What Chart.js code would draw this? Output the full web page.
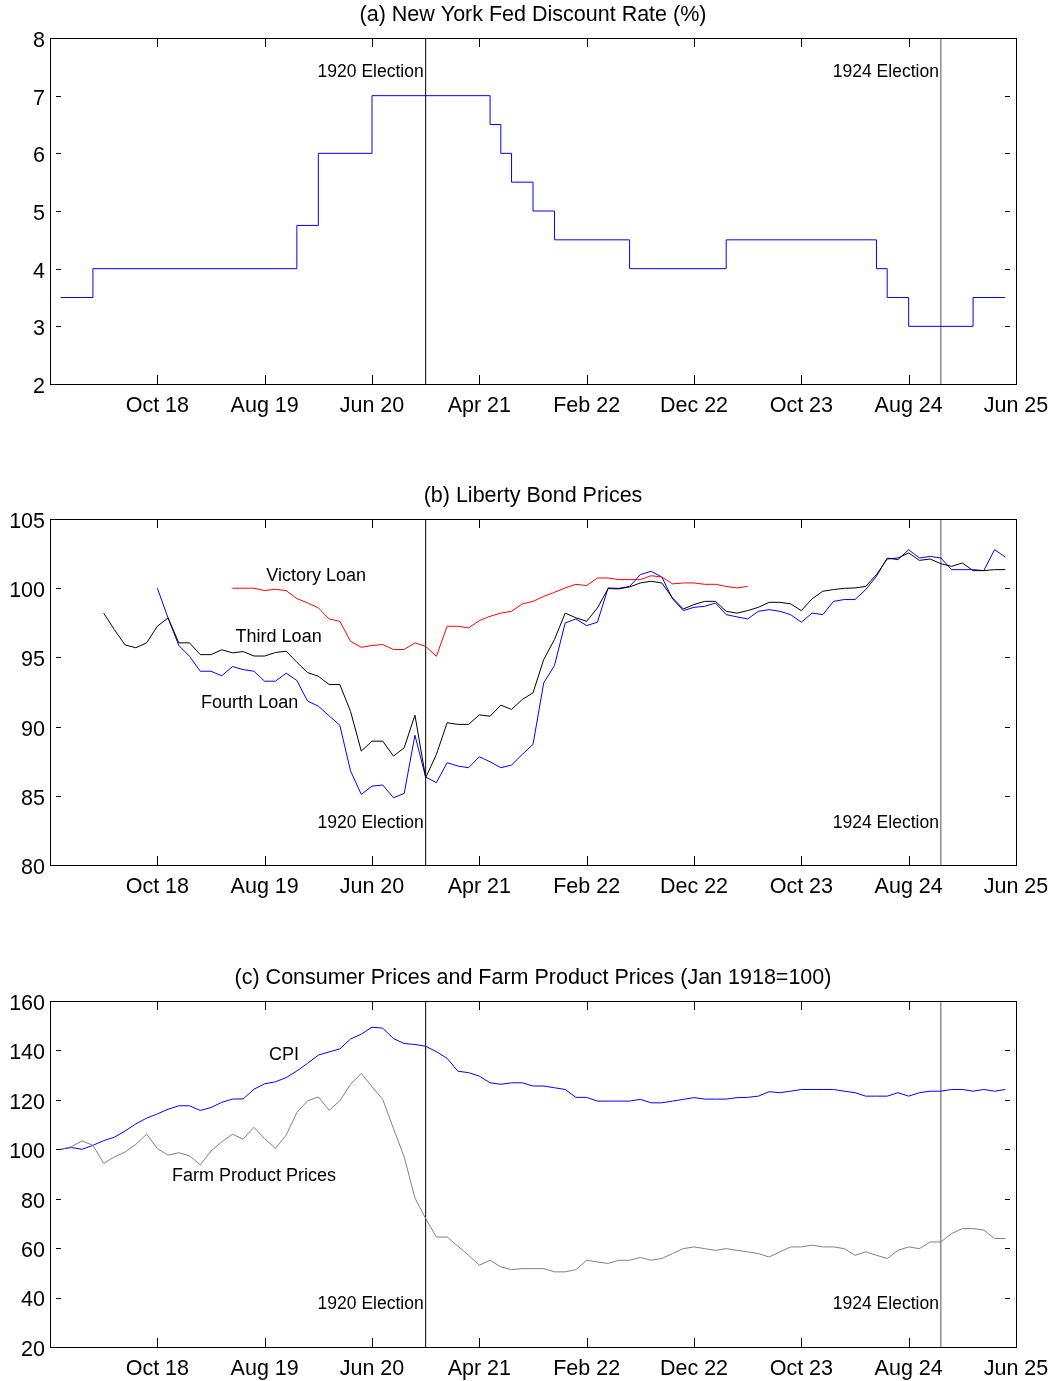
<!DOCTYPE html>
<html>
<head>
<meta charset="utf-8">
<script src="https://cdn.jsdelivr.net/npm/chart.js@4.4.0/dist/chart.umd.min.js"></script>
<style>
  html, body { margin: 0; padding: 0; background: #fff; overflow: hidden; }
  .panel { position: absolute; left: 0; width: 1054px; height: 420px; }
</style>
</head>
<body>
<div class="panel" style="top:0px"><canvas id="rateChart" width="1054" height="420"></canvas></div>
<div class="panel" style="top:481px"><canvas id="bondChart" width="1054" height="420"></canvas></div>
<div class="panel" style="top:963px"><canvas id="priceChart" width="1054" height="420"></canvas></div>
<script>
// months are counted from Dec 1917 (= 0)
const tickMonths = [10, 20, 30, 40, 50, 60, 70, 80, 90];
const tickLabels = ['Oct 18', 'Aug 19', 'Jun 20', 'Apr 21', 'Feb 22', 'Dec 22', 'Oct 23', 'Aug 24', 'Jun 25'];
const electionMonths = [35, 83];

// NY Fed discount rate: month of each change and the new rate
const rateMonths = [1, 4, 23, 25, 30, 41, 42, 43, 45, 47, 54, 63, 77, 78, 80, 86, 89];
const rateValues = [3.5, 4, 4.75, 6, 7, 6.5, 6, 5.5, 5, 4.5, 4, 4.5, 4, 3.5, 3, 3.5, 3.5];

// Liberty bond prices, monthly
const thirdStart = 5;
const thirdLoan = [
  98.2, 97.0, 95.9, 95.7, 96.05, 97.25, 97.85, 96.05, 96.05, 95.2, 95.2, 95.55, 95.33, 95.42, 95.1, 95.1,
  95.35, 95.45, 94.65, 93.9, 93.64, 93.04, 93.04, 91.1, 88.23, 88.95, 88.95, 87.87, 88.47, 90.83, 86.31,
  87.99, 90.28, 90.16, 90.16, 90.85, 90.75, 91.55, 91.24, 91.96, 92.44, 94.85, 96.29, 98.2, 97.86, 97.61,
  98.57, 99.97, 99.95, 100.09, 100.38, 100.5, 100.38, 99.3, 98.5, 98.82, 99.05, 99.05, 98.33, 98.2, 98.38,
  98.62, 98.98, 98.98, 98.87, 98.38, 99.23, 99.78, 99.9, 99.99, 100.02, 100.13, 100.98, 102.11, 102.18,
  102.55, 102.01, 102.11, 101.77, 101.58, 101.82, 101.27, 101.27, 101.34, 101.34
];
const fourthStart = 10;
const fourthLoan = [
  100.0, 97.85, 95.86, 95.08, 94.0, 94.0, 93.67, 94.34, 94.12, 94.0, 93.28, 93.28, 93.86, 93.33, 91.84,
  91.48, 90.78, 90.1, 86.8, 85.1, 85.7, 85.78, 84.86, 85.17, 89.38, 86.35,
  85.95, 87.39, 87.15, 87.03, 87.82, 87.46, 87.03, 87.22, 87.99, 88.71, 93.16, 94.41, 97.49, 97.78, 97.3,
  97.54, 100.02, 99.99, 100.13, 100.98, 101.22, 100.81, 99.23, 98.38, 98.62, 98.69, 98.93, 98.09, 97.93, 97.78,
  98.33, 98.45, 98.33, 98.09, 97.54, 98.2, 98.09, 99.05, 99.18, 99.18, 99.9, 100.86, 102.18, 102.06,
  102.78, 102.18, 102.3, 102.18, 101.34, 101.34, 101.34, 101.27, 102.78, 102.26
];
const victoryStart = 17;
const victoryLoan = [
  100.0, 100.0, 100.0, 99.83, 99.92, 99.83, 99.25, 98.94, 98.58, 97.78, 97.61, 96.17, 95.73, 95.86, 95.93,
  95.57, 95.57, 96.05, 95.8,
  95.08, 97.25, 97.25, 97.13, 97.66, 97.97, 98.2, 98.33, 98.86, 99.05, 99.41, 99.7, 100.02, 100.28, 100.19,
  100.74, 100.74, 100.62, 100.62, 100.62, 100.9, 100.81, 100.31, 100.38, 100.38, 100.28, 100.28, 100.13,
  100.02, 100.13
];

// price indexes, Jan 1918 = 100
const priceStart = 1;
const cpi = [
  100, 100.7, 100.0, 101.6, 103.5, 104.9, 107.4, 110.3, 112.6, 114.3, 116.2, 117.6, 117.6, 115.7, 116.9,
  119.0, 120.3, 120.4, 124.3, 126.5, 127.3, 129.0, 131.7, 134.8, 138.1, 139.4, 140.6, 144.6, 146.6, 149.4,
  149.0, 144.8, 142.8, 142.4, 141.7,
  139.5, 136.8, 131.6, 131.0, 129.6, 126.9, 126.3, 126.9, 126.9, 125.6, 125.6, 124.9, 124.2, 121.0, 121.0,
  119.5, 119.5, 119.5, 119.5, 120.2, 118.8, 118.8, 119.5, 120.2, 120.9, 120.3, 120.3, 120.3, 120.9, 121.0,
  121.5, 123.3, 122.9, 123.5, 124.2, 124.2, 124.2, 124.2, 123.5, 122.9, 121.5, 121.5, 121.5, 122.9, 121.5,
  122.9, 123.5, 123.5, 124.2, 124.2, 123.5, 124.2, 123.5, 124.2
];
const farmPrices = [
  100, 101.1, 103.4, 101.6, 94.3, 96.9, 98.9, 102.0, 106.1, 100.3, 97.6, 98.6, 97.3, 93.7, 99.3, 103.0,
  106.1, 104.1, 108.9, 104.3, 100.3, 105.7, 114.9, 119.6, 121.2, 115.8, 119.6, 126.3, 130.7, 125.3, 120.2,
  108.4, 96.9, 80.3, 72.0,
  64.5, 64.5, 60.8, 57.1, 53.1, 55.1, 52.4, 51.3, 51.7, 51.7, 51.7, 50.4, 50.4, 51.3, 55.1, 54.4, 53.8,
  55.1, 55.1, 56.2, 55.1, 55.8, 57.8, 59.8, 60.5, 59.8, 59.1, 59.8, 59.1, 58.5,
  57.8, 56.4, 58.5, 60.5, 60.5, 61.2, 60.5, 60.5, 59.8, 57.1, 58.5, 57.1, 55.8, 59.1, 60.5, 59.8, 62.5,
  62.5, 65.9, 67.9, 67.9, 67.3, 63.9, 63.9
];

const FONT = "'Liberation Sans', Arial, sans-serif";
Chart.defaults.font.family = FONT;
Chart.defaults.color = '#000';

function series(start, values) {
  return values.map((v, k) => ({ x: start + k, y: v }));
}

function line(data, color, extra) {
  return Object.assign({
    data: data,
    borderColor: color,
    borderWidth: 1,
    pointRadius: 0,
    tension: 0,
    fill: false
  }, extra || {});
}

function electionLines(yMin, yMax) {
  return electionMonths.map((m, k) =>
    line([{ x: m, y: yMin }, { x: m, y: yMax }], k === 0 ? '#000' : '#555'));
}

// box round the plot, inward tick marks on all four sides, and text notes
const framePlugin = {
  id: 'frame',
  afterDatasetsDraw(chart, args, opts) {
    const { ctx, chartArea: a, scales: { x, y } } = chart;
    ctx.save();
    ctx.strokeStyle = '#000';
    ctx.lineWidth = 1;
    ctx.beginPath();
    x.ticks.forEach(t => {
      const px = Math.round(x.getPixelForValue(t.value)) + 0.5;
      ctx.moveTo(px, a.bottom); ctx.lineTo(px, a.bottom - 9);
      ctx.moveTo(px, a.top); ctx.lineTo(px, a.top + 9);
    });
    y.ticks.forEach(t => {
      const py = Math.round(y.getPixelForValue(t.value)) + 0.5;
      ctx.moveTo(a.left + 6, py); ctx.lineTo(a.left + 11, py);
      ctx.moveTo(a.right - 6, py); ctx.lineTo(a.right - 11, py);
    });
    ctx.stroke();
    ctx.strokeRect(Math.round(a.left) + 0.5, Math.round(a.top) + 0.5,
      Math.round(a.right - a.left), Math.round(a.bottom - a.top));

    ctx.fillStyle = '#000';
    ctx.textBaseline = 'middle';
    (opts.notes || []).forEach(n => {
      ctx.font = n.size + 'px ' + FONT;
      ctx.textAlign = n.align || 'center';
      ctx.fillText(n.text, x.getPixelForValue(n.x) + (n.dx || 0), y.getPixelForValue(n.y));
    });
    ctx.restore();
  }
};

function panelOptions(title, yMin, yMax, step, notes) {
  const tickFont = { size: 21.5, family: FONT };
  return {
    responsive: false,
    animation: false,
    layout: { padding: { left: 0, right: 38, top: 0, bottom: 0 } },
    plugins: {
      legend: { display: false },
      tooltip: { enabled: false },
      title: {
        display: true,
        fullSize: false,
        text: title,
        color: '#000',
        font: { size: 21.5, weight: 'normal', lineHeight: 1.2, family: FONT },
        padding: { top: 2, bottom: 10.2 }
      },
      frame: { notes: notes }
    },
    scales: {
      x: {
        type: 'linear',
        min: 0,
        max: 90,
        afterBuildTicks: s => { s.ticks = tickMonths.map(v => ({ value: v })); },
        afterFit: s => { s.height = 36; s.paddingLeft = 0; s.paddingRight = 0; },
        ticks: {
          autoSkip: false,
          maxRotation: 0,
          padding: 9,
          font: tickFont,
          color: '#000',
          callback: (v, i) => tickLabels[i]
        },
        grid: { display: false, drawTicks: false },
        border: { display: false }
      },
      y: {
        min: yMin,
        max: yMax,
        afterFit: s => { s.width = 50; s.paddingTop = 0; s.paddingBottom = 0; },
        ticks: { stepSize: step, padding: 5, labelOffset: 3, font: tickFont, color: '#000' },
        grid: { display: false, drawTicks: false },
        border: { display: false }
      }
    }
  };
}

new Chart(document.getElementById('rateChart'), {
  type: 'line',
  data: {
    datasets: [
      line(rateMonths.map((m, k) => ({ x: m, y: rateValues[k] })), '#0000ff', { stepped: true }),
      ...electionLines(2, 8)
    ]
  },
  options: panelOptions('(a) New York Fed Discount Rate (%)', 2, 8, 1, [
    { text: '1920 Election', x: 35, y: 7.4, align: 'right', dx: -2, size: 17.5 },
    { text: '1924 Election', x: 83, y: 7.4, align: 'right', dx: -2, size: 17.5 }
  ]),
  plugins: [framePlugin]
});

new Chart(document.getElementById('bondChart'), {
  type: 'line',
  data: {
    datasets: [
      line(series(victoryStart, victoryLoan), '#ff0000'),
      line(series(thirdStart, thirdLoan), '#000000'),
      line(series(fourthStart, fourthLoan), '#0000ff'),
      ...electionLines(80, 105)
    ]
  },
  options: panelOptions('(b) Liberty Bond Prices', 80, 105, 5, [
    { text: 'Victory Loan', x: 24.8, y: 100.9, size: 18 },
    { text: 'Third Loan', x: 21.3, y: 96.5, size: 18 },
    { text: 'Fourth Loan', x: 18.6, y: 91.7, size: 18 },
    { text: '1920 Election', x: 35, y: 83.0, align: 'right', dx: -2, size: 17.5 },
    { text: '1924 Election', x: 83, y: 83.0, align: 'right', dx: -2, size: 17.5 }
  ]),
  plugins: [framePlugin]
});

new Chart(document.getElementById('priceChart'), {
  type: 'line',
  data: {
    datasets: [
      line(series(priceStart, farmPrices), '#808080'),
      line(series(priceStart, cpi), '#0000ff'),
      ...electionLines(20, 160)
    ]
  },
  options: panelOptions('(c) Consumer Prices and Farm Product Prices (Jan 1918=100)', 20, 160, 20, [
    { text: 'CPI', x: 21.8, y: 138.1, size: 18 },
    { text: 'Farm Product Prices', x: 19.0, y: 89.1, size: 18 },
    { text: '1920 Election', x: 35, y: 37.3, align: 'right', dx: -2, size: 17.5 },
    { text: '1924 Election', x: 83, y: 37.3, align: 'right', dx: -2, size: 17.5 }
  ]),
  plugins: [framePlugin]
});
</script>
</body>
</html>
